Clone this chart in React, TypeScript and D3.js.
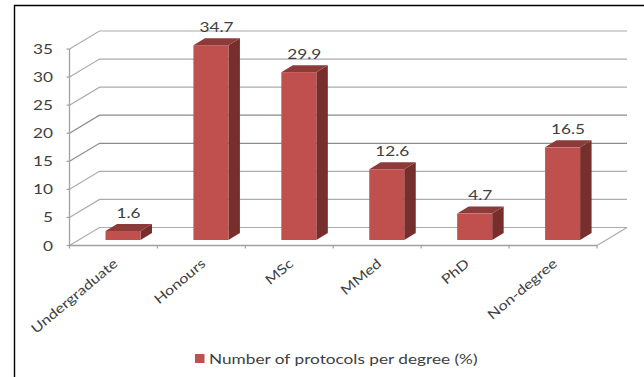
import React from "react";
import * as d3 from "d3";

const categories = ["Undergraduate", "Honours", "MSc", "MMed", "PhD", "Non-degree"];
const values = [1.6, 34.7, 29.9, 12.6, 4.7, 16.5];
const valueLabels = ["1.6", "34.7", "29.9", "12.6", "4.7", "16.5"];
const yTicks = [0, 5, 10, 15, 20, 25, 30, 35];
const darkGridTicks = [15, 20];
const legendLabel = "Number of protocols per degree (%)";

const W = 644;
const H = 377;
const FONT = "Lato, 'Open Sans', sans-serif";
const TEXT = "#404040";

// Oblique offset of the back wall and of each bar's depth.
const WALL_DX = 30;
const WALL_DY = -18;
const BAR_DX = 11.5;
const BAR_DY = -7;
const BAR_INSET = 36;
const BAR_W = 35;
const BAR_LIFT = 5.5;

const x = d3.scaleBand<string>().domain(categories).range([69.5, 597]);
const y = d3.scaleLinear().domain([0, 35]).range([245.5, 49]);

function Label(props: { x: number; y: number; rotate?: number; size: number; anchor?: string; children: string }) {
  const { x: px, y: py, rotate = 0, size, anchor = "middle", children } = props;
  return (
    <text
      transform={`translate(${px},${py}) rotate(${rotate}) scale(1.23,1)`}
      textAnchor={anchor}
      fontFamily={FONT}
      fontSize={size}
      fill={TEXT}
    >
      {children}
    </text>
  );
}

export default function App() {
  const poly = d3.line<[number, number]>();
  const x0 = x.range()[0];
  const x1 = x.range()[1];

  return (
    <svg width={W} height={H} style={{ position: "absolute", left: 0, top: 0, background: "#fff" }}>
      {/* page frame */}
      <path d={`M${W},5.5 H14.5 V${H}`} fill="none" stroke="#000" strokeWidth={1.4} />

      {/* back wall and side wall gridlines */}
      {yTicks.map((t) => {
        const pts: [number, number][] = [
          [x0, y(t)],
          [x0 + WALL_DX, y(t) + WALL_DY],
          [x1 + WALL_DX, y(t) + WALL_DY],
        ];
        return (
          <path
            key={t}
            d={poly(pts) ?? ""}
            fill="none"
            stroke={darkGridTicks.includes(t) ? "#8c8c8c" : "#acacac"}
            strokeWidth={1.2}
          />
        );
      })}
      {/* floor edge on the right */}
      <path
        d={poly([[x1, y(0)], [x1 + WALL_DX, y(0) + WALL_DY]]) ?? ""}
        fill="none"
        stroke="#acacac"
        strokeWidth={1.2}
      />

      {/* axes */}
      <path d={`M${x0},${y(35)} V${y(0)} H${x1}`} fill="none" stroke="#a0a0a0" strokeWidth={1.3} />
      {yTicks.map((t) => (
        <path key={t} d={`M${x0 - 3},${y(t)} H${x0}`} stroke="#a0a0a0" strokeWidth={1.2} />
      ))}
      {[...categories.map((c) => x(c) as number), x1].map((px) => (
        <path key={px} d={`M${px},${y(0)} V${y(0) + 3}`} stroke="#a0a0a0" strokeWidth={1.2} />
      ))}

      {yTicks.map((t) => (
        <Label key={t} x={53} y={y(t) + 5} size={14} anchor="end">
          {String(t)}
        </Label>
      ))}

      {/* bars */}
      {categories.map((c, i) => {
        const left = (x(c) as number) + BAR_INSET;
        const right = left + BAR_W;
        const top = y(values[i]) - BAR_LIFT;
        const bottom = y(0) - BAR_LIFT;
        const topFace: [number, number][] = [
          [left, top],
          [left + BAR_DX, top + BAR_DY],
          [right + BAR_DX, top + BAR_DY],
          [right, top],
        ];
        const sideFace: [number, number][] = [
          [right, top],
          [right + BAR_DX, top + BAR_DY],
          [right + BAR_DX, bottom + BAR_DY],
          [right, bottom],
        ];
        return (
          <g key={c}>
            <path d={(poly(sideFace) ?? "") + "Z"} fill="#772f2d" />
            <path d={(poly(topFace) ?? "") + "Z"} fill="#8c3b39" />
            <rect x={left} y={top} width={BAR_W} height={bottom - top} fill="#c0504d" />
            <Label x={left + BAR_W / 2 + 5.5} y={top - 13.5} size={14}>
              {valueLabels[i]}
            </Label>
          </g>
        );
      })}

      {/* category labels */}
      {categories.map((c) => (
        <Label
          key={c}
          x={(x(c) as number) + 49}
          y={265}
          rotate={-40}
          size={13.3}
          anchor="end"
        >
          {c}
        </Label>
      ))}

      {/* legend */}
      <rect x={195} y={354} width={9.5} height={9} fill="#c0504d" />
      <Label x={209} y={363.5} size={14} anchor="start">
        {legendLabel}
      </Label>
    </svg>
  );
}
